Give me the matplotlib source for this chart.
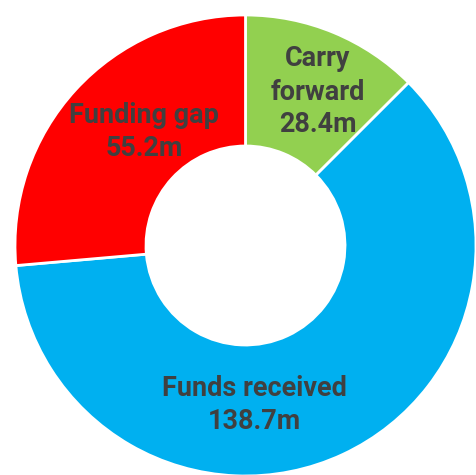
import matplotlib
matplotlib.use("Agg")
import matplotlib.pyplot as plt

categories = ["Carry\nforward", "Funds received", "Funding gap"]
# slice sizes as drawn in the picture (the red slice is drawn larger than its label)
values = [28.4, 138.7, 59.9]
value_labels = ["28.4m", "138.7m", "55.2m"]
colors = ["#92D050", "#00B0F0", "#FF0000"]
# label centres in pixel coords (x, y from top)
label_pos = [(318, 89), (254, 402), (144, 129)]

W, H = 476, 475
fig = plt.figure(figsize=(W / 100, H / 100), dpi=100)
ax = fig.add_axes([0, 0, 1, 1])

cx, cy = 245.5, H - 245.5
R, r = 230.5, 99.5
ax.pie(values, colors=colors, startangle=90, counterclock=False,
       center=(cx, cy), radius=R, frame=True,
       wedgeprops=dict(width=R - r, edgecolor="white", linewidth=2))
ax.set_xlim(0, W)
ax.set_ylim(0, H)
ax.set_aspect("equal")
ax.axis("off")

FONT = "Roboto"
renderer = fig.canvas.get_renderer()
t = ax.text(0, 0, "Funds received", fontsize=20, fontweight="bold", family=FONT)
w = t.get_window_extent(renderer).width
t.remove()
fs = 20 * 184 / w
pitch = 33  # px between lines

for cat, val, (x, y) in zip(categories, value_labels, label_pos):
    lines = cat.split("\n") + [val]
    n = len(lines)
    for i, line in enumerate(lines):
        yy = y + (i - (n - 1) / 2) * pitch
        ax.text(x, H - yy, line, ha="center", va="center_baseline",
                fontsize=fs, fontweight="bold", family=FONT, color="#404040")

fig.savefig("out.png", dpi=100)
